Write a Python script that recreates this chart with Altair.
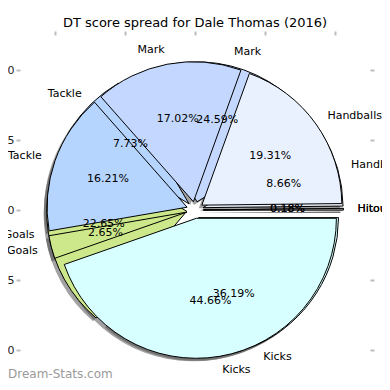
import altair as alt
import numpy as np
import pandas as pd

# ---- data -------------------------------------------------------------
categories = ["Hitout", "Handballs", "Mark", "Tackle", "Goals", "Kicks"]
front_pct = [0.18, 19.31, 17.02, 16.21, 2.65, 44.66]   # pie drawn on top
back_pct = [0.18, 8.66, 24.59, 7.73, 22.65, 36.19]     # pie drawn underneath
colors = ["#eeeeee", "#e9f1fe", "#c4d8ff", "#b5d5ff", "#cde88a", "#d8ffff"]
tick_values = [-1.0, -0.5, 0.0, 0.5, 1.0]
title_text = "DT score spread for Dale Thomas (2016)"
watermark = "Dream-Stats.com"

EXPLODE = 0.06
LABEL_DIST = 1.1
PCT_DIST = 0.6
SHADOW = 0.022


def build(pcts, pie):
    v = np.array(pcts, dtype=float)
    frac = v / v.sum()
    end = np.cumsum(frac)
    start = end - frac
    mid = np.pi * (start + end)
    cx = EXPLODE * np.cos(mid)
    cy = EXPLODE * np.sin(mid)
    return pd.DataFrame({
        "cat": categories,
        "start": start,
        "end": end,
        "r": 1.0,
        "cx": cx,
        "cy": cy,
        "sx": cx - SHADOW,
        "sy": cy - SHADOW,
        "lx": cx + LABEL_DIST * np.cos(mid),
        "ly": cy + LABEL_DIST * np.sin(mid),
        "px": cx + PCT_DIST * np.cos(mid),
        "py": cy + PCT_DIST * np.sin(mid),
        "pct": [f"{p:.2f}%" for p in v],
        "pie": pie,
    })


front = build(front_pct, "front")
back = build(back_pct, "back")
both = pd.concat([back, front], ignore_index=True)

# 140 px per data unit on both axes (the page is only 390 px tall, so the
# bottom strip of the original axes, which the reference crops, is left out)
xs = alt.Scale(domain=[-1.25, 1.25], nice=False, zero=False)
ys = alt.Scale(domain=[-1.2, 1.25], nice=False, zero=False)
ts = alt.Scale(domain=[0, 1], range=[2.5 * np.pi, 0.5 * np.pi])
rs = alt.Scale(type="linear", domain=[0, 1.25], range=[0, 175], zero=True)
cs = alt.Scale(domain=categories, range=colors)

axis_common = dict(values=tick_values, format=".1f", title=None, domain=False, grid=False,
                   tickColor="#bdbdbd", tickSize=4, tickWidth=2, labelFontSize=11,
                   labelColor="#222222", labelPadding=2, labelFont="DejaVu Sans")
ax_left = alt.Axis(orient="left", **axis_common)
ax_top = alt.Axis(orient="top", labels=False, **axis_common)
ax_right = alt.Axis(orient="right", labels=False, **axis_common)

# shadows (below every wedge)
shadow = alt.Chart(both).mark_arc(fill="#454545", opacity=0.5, strokeWidth=0).encode(
    x=alt.X("sx:Q", scale=xs, axis=ax_top),
    y=alt.Y("sy:Q", scale=ys, axis=ax_left),
    theta=alt.Theta("start:Q", scale=ts, stack=None),
    theta2="end:Q",
    radius=alt.Radius("r:Q", scale=rs),
)


def wedges(df, xaxis=None, yaxis=None):
    return alt.Chart(df).mark_arc(stroke="black", strokeWidth=1).encode(
        x=alt.X("cx:Q", scale=xs, axis=xaxis),
        y=alt.Y("cy:Q", scale=ys, axis=yaxis),
        theta=alt.Theta("start:Q", scale=ts, stack=None),
        theta2="end:Q",
        radius=alt.Radius("r:Q", scale=rs),
        color=alt.Color("cat:N", scale=cs, legend=None),
    )


back_w = wedges(back, None, ax_right)
front_w = wedges(front)

lab_right = alt.Chart(both).transform_filter("datum.lx > 0").mark_text(
    align="left", baseline="middle", fontSize=11, font="DejaVu Sans", color="black").encode(
    x=alt.X("lx:Q", scale=xs, axis=None), y=alt.Y("ly:Q", scale=ys, axis=None), text="cat:N")
lab_left = alt.Chart(both).transform_filter("datum.lx <= 0").mark_text(
    align="right", baseline="middle", fontSize=11, font="DejaVu Sans", color="black").encode(
    x=alt.X("lx:Q", scale=xs, axis=None), y=alt.Y("ly:Q", scale=ys, axis=None), text="cat:N")
pct_text = alt.Chart(both).mark_text(
    align="center", baseline="middle", fontSize=11, font="DejaVu Sans", color="black").encode(
    x=alt.X("px:Q", scale=xs, axis=None), y=alt.Y("py:Q", scale=ys, axis=None), text="pct:N")

wm = alt.Chart(pd.DataFrame({"t": [watermark]})).mark_text(
    align="left", baseline="middle", fontSize=12, font="DejaVu Sans", color="#9a9a9a").encode(
    x=alt.value(-12), y=alt.value(339), text="t:N")

chart = alt.layer(shadow, back_w, front_w, lab_right, lab_left, pct_text, wm).resolve_axis(
    x="independent", y="independent"
).properties(
    width=350, height=343,
    title=alt.TitleParams(title_text, fontSize=13, fontWeight="normal", font="DejaVu Sans",
                          color="black", anchor="middle", offset=0),
    autosize=alt.AutoSizeParams(type="none"),
    padding={"left": 12, "top": 27, "right": 12, "bottom": 0},
).configure_view(stroke=None)

chart.save("out.html", embed_options={"renderer": "svg", "actions": False})
